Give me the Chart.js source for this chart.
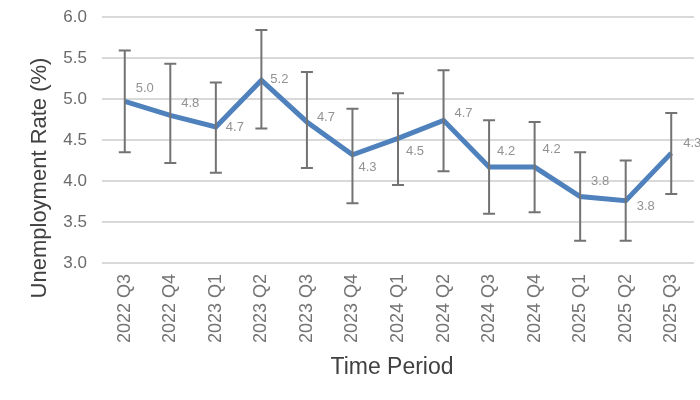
<!DOCTYPE html>
<html>
<head>
<meta charset="utf-8">
<script src="https://cdn.jsdelivr.net/npm/chart.js@4"></script>
<style>
	html, body { margin: 0; padding: 0; background: #fff; }
	#wrap { width: 700px; height: 400px; }
</style>
</head>
<body>
<div id="wrap"><canvas id="rateChart"></canvas></div>
<script>
const periods = ["2022 Q3", "2022 Q4", "2023 Q1", "2023 Q2", "2023 Q3", "2023 Q4", "2024 Q1",
	"2024 Q2", "2024 Q3", "2024 Q4", "2025 Q1", "2025 Q2", "2025 Q3"];
const rates = [4.97, 4.80, 4.66, 5.23, 4.72, 4.32, 4.52, 4.74, 4.17, 4.17, 3.81, 3.76, 4.34];
const errHigh = [5.59, 5.43, 5.20, 5.84, 5.33, 4.88, 5.07, 5.35, 4.74, 4.72, 4.35, 4.25, 4.83];
const errLow = [4.35, 4.22, 4.10, 4.64, 4.16, 3.73, 3.95, 4.12, 3.60, 3.62, 3.27, 3.27, 3.84];
const yTicks = [3.0, 3.5, 4.0, 4.5, 5.0, 5.5, 6.0];

// where each value label sits, relative to its point
const labelShift = [[20, -13], [20, -12], [19, 1], [18, -1], [19, -5], [15, 13], [17, 13],
	[20, -7], [17, -16], [17, -18], [20, -15], [20, 6], [21, -10]];

const FONT = "'Liberation Sans', Arial, sans-serif";

// error bars + value labels + axis titles
const extras = {
	id: "extras",
	afterDatasetsDraw(chart) {
		const c = chart.ctx;
		const x = chart.scales.x, y = chart.scales.y;
		c.save();
		c.strokeStyle = "#737373";
		c.lineWidth = 2;
		for (let i = 0; i < rates.length; i++) {
			const px = x.getPixelForValue(i);
			const top = y.getPixelForValue(errHigh[i]);
			const bot = y.getPixelForValue(errLow[i]);
			c.beginPath();
			c.moveTo(px, top); c.lineTo(px, bot);
			c.moveTo(px - 6, top); c.lineTo(px + 6, top);
			c.moveTo(px - 6, bot); c.lineTo(px + 6, bot);
			c.stroke();
		}
		c.fillStyle = "#929292";
		c.font = "13px " + FONT;
		c.textAlign = "center";
		c.textBaseline = "middle";
		for (let i = 0; i < rates.length; i++) {
			const px = x.getPixelForValue(i);
			const py = y.getPixelForValue(rates[i]);
			c.fillText(rates[i].toFixed(1), px + labelShift[i][0], py + labelShift[i][1]);
		}
		c.fillStyle = "#404040";
		c.font = "23px " + FONT;
		c.fillText("Time Period", 392, 368);
		c.translate(40, 178);
		c.rotate(-Math.PI / 2);
		c.font = "22px " + FONT;
		c.fillText("Unemployment Rate (%)", 0, 0);
		c.restore();
	}
};

const rateChart = new Chart(document.getElementById("rateChart"), {
	type: "line",
	data: {
		labels: periods,
		datasets: [
			{
				label: "Unemployment Rate",
				data: rates,
				borderColor: "#4f81bd",
				borderWidth: 5,
				pointRadius: 0,
				tension: 0,
				fill: false,
			},
		],
	},
	options: {
		responsive: true,
		maintainAspectRatio: false,
		animation: false,
		layout: { padding: { left: 0, right: 6, top: 17, bottom: 0 } },
		plugins: { legend: { display: false }, tooltip: { enabled: false } },
		scales: {
			x: {
				offset: true,
				grid: { display: false },
				border: { display: false },
				ticks: {
					minRotation: 90,
					maxRotation: 90,
					padding: 3,
					color: "#737373",
					font: { family: FONT, size: 18 },
				},
				afterFit(s) { s.height = 137; s.paddingLeft = 0; s.paddingRight = 0; },
			},
			y: {
				min: 3,
				max: 6,
				grid: { color: "#d9d9d9", lineWidth: 2, drawTicks: false },
				border: { display: false },
				afterBuildTicks(s) { s.ticks = yTicks.map(v => ({ value: v })); },
				ticks: {
					padding: 15,
					color: "#6b6b6b",
					font: { family: FONT, size: 17 },
					callback: v => v.toFixed(1),
				},
				afterFit(s) { s.width = 102; s.paddingTop = 0; s.paddingBottom = 0; },
			},
		},
	},
	plugins: [extras],
});
</script>
</body>
</html>
